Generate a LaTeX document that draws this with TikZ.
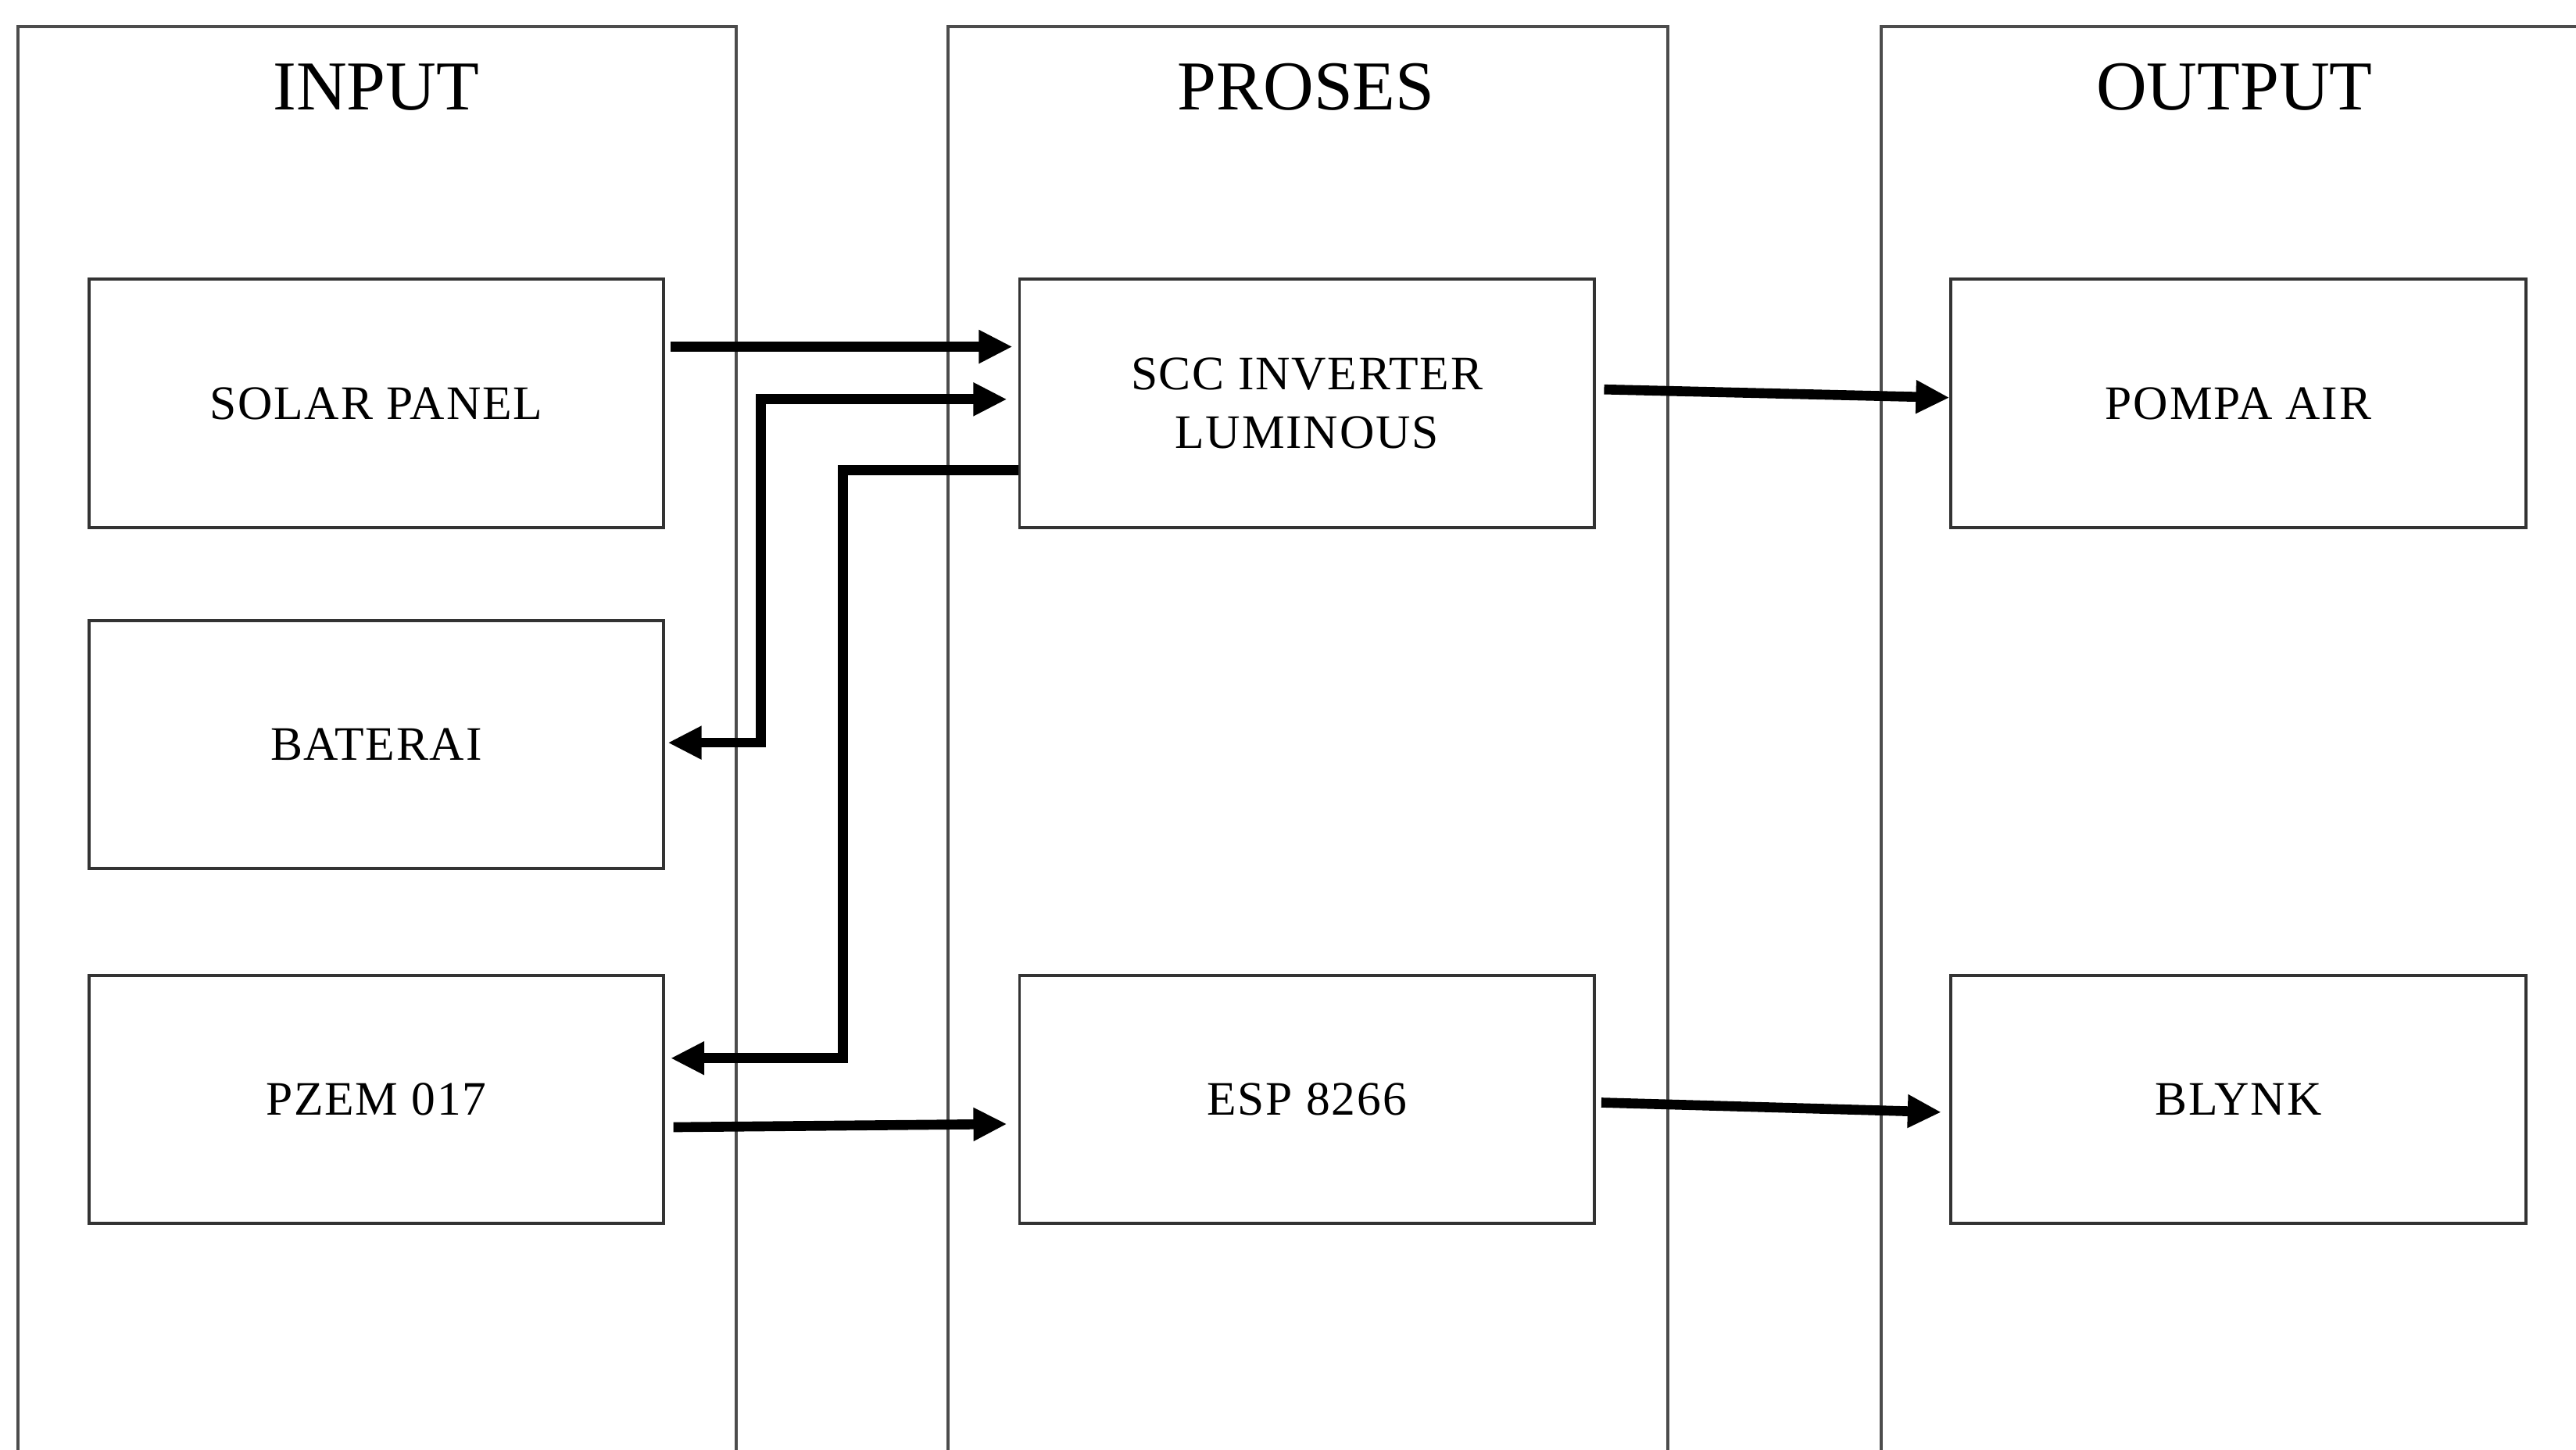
\documentclass[tikz,border=0pt]{standalone}
\usepackage{fontspec}
\setmainfont{Liberation Serif}
\usetikzlibrary{arrows.meta}
\begin{document}
\begin{tikzpicture}[x={(0.02102cm,0)}, y={(0,-0.02102cm)},
  column/.style={draw=black!70, line width=1.1pt},
  title/.style={font=\fontsize{25.5}{30}\selectfont, anchor=center, inner sep=0pt},
  block/.style={draw=black!80, line width=1.1pt, minimum width=7.357cm, minimum height=3.174cm,
    inner sep=0pt, align=center,
    font=\fontsize{17.5}{21.5}\selectfont\addfontfeatures{LetterSpace=3}},
  conn/.style={line width=3.6pt, draw=black, -{Triangle[length=0.43cm,width=0.4cm]}},
  conn2/.style={line width=3.6pt, draw=black, {Triangle[length=0.43cm,width=0.4cm]}-{Triangle[length=0.43cm,width=0.4cm]}}]
\useasboundingbox (0,0) rectangle (1568,882);
\fill[white] (0,0) rectangle (1568,882);
% columns
\draw[column] (11,890) -- (11,16) -- (448,16) -- (448,890);
\draw[column] (577,890) -- (577,16) -- (1015,16) -- (1015,890);
\draw[column] (1145,890) -- (1145,16) -- (1580,16);
\node[title] (tin) at (229,53) {INPUT};
\node[title] (tpr) at (795,53) {PROSES};
\node[title] (tout) at (1360,53) {OUTPUT};
% blocks
\node[block] (solar) at (229,245.5) {SOLAR PANEL};
\node[block] (bat) at (229,453) {BATERAI};
\node[block] (pzem) at (229,669) {PZEM 017};
\node[block] (scc) at (795.5,245.5) {SCC INVERTER\\LUMINOUS};
\node[block] (esp) at (795.5,669) {ESP 8266};
\node[block] (pompa) at (1362.5,245.5) {POMPA AIR};
\node[block] (blynk) at (1362.5,669) {BLYNK};
% connectors
\draw[conn, shorten >=2pt] ([xshift=2pt]solar.east |- 0,211) -- (scc.west |- 0,211);
\draw[conn2, shorten >=4pt] ([xshift=1pt]bat.east |- 0,452) -- (463,452) -- (463,243) -- (scc.west |- 0,243);
\draw[conn] (scc.west |- 0,286) -- (513,286) -- (513,644) -- ([xshift=2pt]pzem.east |- 0,644);
\draw[conn, shorten >=4pt] ([xshift=3pt]pzem.east |- 0,686) -- (esp.west |- 0,684);
\draw[conn] ([xshift=3pt]scc.east |- 0,237) -- (pompa.west |- 0,242);
\draw[conn, shorten >=3pt] ([xshift=2pt]esp.east |- 0,671) -- (blynk.west |- 0,677);
\end{tikzpicture}
\end{document}
